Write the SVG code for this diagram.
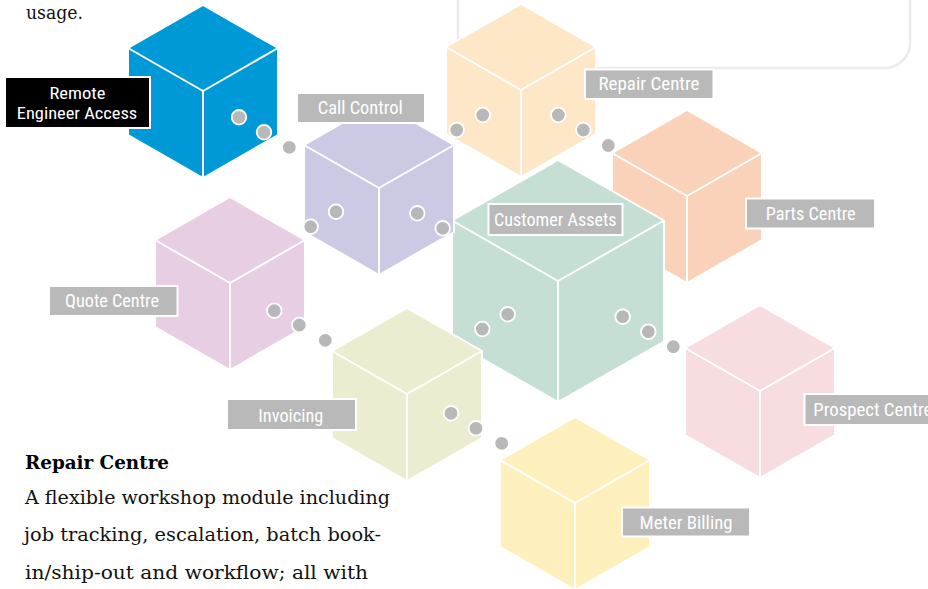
<svg xmlns="http://www.w3.org/2000/svg" xmlns:xlink="http://www.w3.org/1999/xlink" width="928" height="589" viewBox="0 0 928 589">
  <style>
    .edge { fill: none; stroke: #ffffff; stroke-width: 2; stroke-linejoin: round; }
    .tag { fill: #b9b9b9; stroke: #ffffff; stroke-width: 2; }
    .tag-dark { fill: #000000; stroke: #ffffff; stroke-width: 2; }
    .tag-text { font-family: "Liberation Sans Narrow", "Roboto Condensed", "Liberation Sans", Arial, sans-serif; font-size: 18.5px; fill: #ffffff; text-anchor: middle; }
    .tag-text.small { font-size: 17px; }
    .body { font-family: "DejaVu Serif", "Liberation Serif", serif; font-size: 18px; fill: #111111; }
    .body-bold { font-family: "DejaVu Serif", "Liberation Serif", serif; font-size: 18px; font-weight: bold; fill: #000000; }
    .dot { fill: #b8b8b8; stroke: #ffffff; stroke-width: 1.8; }
  </style>
  <defs>
    <!-- isometric cube: origin at the top vertex, fill comes from the <use> -->
    <g id="cube">
      <polygon points="0,0 75,43 75,130 0,173 -75,130 -75,43" stroke="#ffffff" stroke-width="2" stroke-linejoin="round"/>
      <path class="edge" d="M-75,43 L0,86 L75,43 M0,86 V173"/>
    </g>
  </defs>

  <rect width="928" height="589" fill="#ffffff"/>

  <!-- rounded panel behind the upper right -->
  <rect x="458" y="-40" width="452" height="108" rx="25" fill="#ffffff" stroke="#ebebeb" stroke-width="2.5"/>

  <!-- paragraph text -->
  <text class="body" x="26" y="19" textLength="57" lengthAdjust="spacingAndGlyphs">usage.</text>
  <text class="body-bold" x="25" y="469" textLength="144" lengthAdjust="spacingAndGlyphs">Repair Centre</text>
  <text class="body" x="25" y="503.5" textLength="365" lengthAdjust="spacingAndGlyphs">A flexible workshop module including</text>
  <text class="body" x="24" y="541" textLength="357" lengthAdjust="spacingAndGlyphs">job tracking, escalation, batch book-</text>
  <text class="body" x="25" y="578.5" textLength="343" lengthAdjust="spacingAndGlyphs">in/ship-out and workflow; all with</text>

  <g id="repair-centre">
    <use xlink:href="#cube" href="#cube" x="521" y="4" fill="#fde7c7"/>
    <rect class="tag" x="585" y="69.5" width="128.5" height="29.5"/>
    <text class="tag-text" x="649" y="90" textLength="101" lengthAdjust="spacingAndGlyphs">Repair Centre</text>
  </g>

  <g id="remote-engineer-access">
    <use xlink:href="#cube" href="#cube" x="203" y="5" fill="#0099d8"/>
    <rect class="tag-dark" x="5" y="77" width="145" height="51"/>
    <text class="tag-text small" x="77.5" y="99" textLength="56" lengthAdjust="spacingAndGlyphs">Remote</text>
    <text class="tag-text small" x="77" y="118.5" textLength="120.5" lengthAdjust="spacingAndGlyphs">Engineer Access</text>
  </g>

  <g id="parts-centre">
    <use xlink:href="#cube" href="#cube" x="687" y="110" fill="#f9d2b9"/>
    <rect class="tag" x="746" y="198.5" width="129" height="30"/>
    <text class="tag-text" x="810.7" y="219.5" textLength="90" lengthAdjust="spacingAndGlyphs">Parts Centre</text>
  </g>

  <g id="customer-assets">
    <polygon points="558,160 664,220.5 664,341.5 558,402 452,341.5 452,220.5" fill="#c6dfd4" stroke="#ffffff" stroke-width="2" stroke-linejoin="round"/>
    <path class="edge" d="M452,220.5 L558,281 L664,220.5 M558,281 V402"/>
    <rect class="tag" x="488.5" y="204" width="134" height="31"/>
    <text class="tag-text" x="555.3" y="226" textLength="122.5" lengthAdjust="spacingAndGlyphs">Customer Assets</text>
  </g>

  <g id="call-control">
    <use xlink:href="#cube" href="#cube" x="379" y="102" fill="#cbc9e4"/>
    <rect class="tag" x="297" y="93" width="128" height="30"/>
    <text class="tag-text" x="360.2" y="114" textLength="85" lengthAdjust="spacingAndGlyphs">Call Control</text>
  </g>

  <g id="quote-centre">
    <use xlink:href="#cube" href="#cube" x="230" y="197" fill="#e8cee2"/>
    <rect class="tag" x="49" y="286" width="128.5" height="30"/>
    <text class="tag-text" x="112" y="306.8" textLength="94" lengthAdjust="spacingAndGlyphs">Quote Centre</text>
  </g>

  <g id="invoicing">
    <use xlink:href="#cube" href="#cube" x="407" y="308" fill="#ecedd0"/>
    <rect class="tag" x="227" y="399" width="129" height="31"/>
    <text class="tag-text" x="290.8" y="421.5" textLength="65" lengthAdjust="spacingAndGlyphs">Invoicing</text>
  </g>

  <g id="prospect-centre">
    <use xlink:href="#cube" href="#cube" x="760" y="305" fill="#f7dce0"/>
    <rect class="tag" x="804.5" y="394" width="130" height="31"/>
    <text class="tag-text" x="813.3" y="416" textLength="119" lengthAdjust="spacingAndGlyphs" style="text-anchor:start">Prospect Centre</text>
  </g>

  <g id="meter-billing">
    <use xlink:href="#cube" href="#cube" x="575" y="417" fill="#fef0bd"/>
    <rect class="tag" x="622" y="507.5" width="128" height="29"/>
    <text class="tag-text" x="686" y="528.5" textLength="93" lengthAdjust="spacingAndGlyphs">Meter Billing</text>
  </g>

  <!-- connector dots between the modules -->
  <g id="connectors">
    <circle class="dot" cx="239" cy="117.3" r="7.3"/>
    <circle class="dot" cx="264" cy="132.3" r="7.3"/>
    <circle class="dot" cx="289.3" cy="147.3" r="7.3"/>

    <circle class="dot" cx="456.7" cy="130" r="7.3"/>
    <circle class="dot" cx="482.7" cy="115" r="7.3"/>
    <circle class="dot" cx="558.3" cy="115" r="7.3"/>
    <circle class="dot" cx="583.3" cy="130" r="7.3"/>
    <circle class="dot" cx="608.3" cy="145.5" r="7.3"/>

    <circle class="dot" cx="310.7" cy="226.7" r="7.3"/>
    <circle class="dot" cx="336" cy="211.7" r="7.3"/>
    <circle class="dot" cx="417.3" cy="213.3" r="7.3"/>
    <circle class="dot" cx="442.7" cy="228.3" r="7.3"/>

    <circle class="dot" cx="274.3" cy="310.7" r="7.3"/>
    <circle class="dot" cx="299.3" cy="325" r="7.3"/>
    <circle class="dot" cx="325.3" cy="340.3" r="7.3"/>

    <circle class="dot" cx="482.3" cy="329" r="7.3"/>
    <circle class="dot" cx="507.7" cy="314.3" r="7.3"/>
    <circle class="dot" cx="622.7" cy="316.7" r="7.3"/>
    <circle class="dot" cx="648.3" cy="331.7" r="7.3"/>
    <circle class="dot" cx="673.3" cy="346.7" r="7.3"/>

    <circle class="dot" cx="451" cy="413.3" r="7.3"/>
    <circle class="dot" cx="476" cy="428.3" r="7.3"/>
    <circle class="dot" cx="501.7" cy="443.3" r="7.3"/>
  </g>
</svg>
